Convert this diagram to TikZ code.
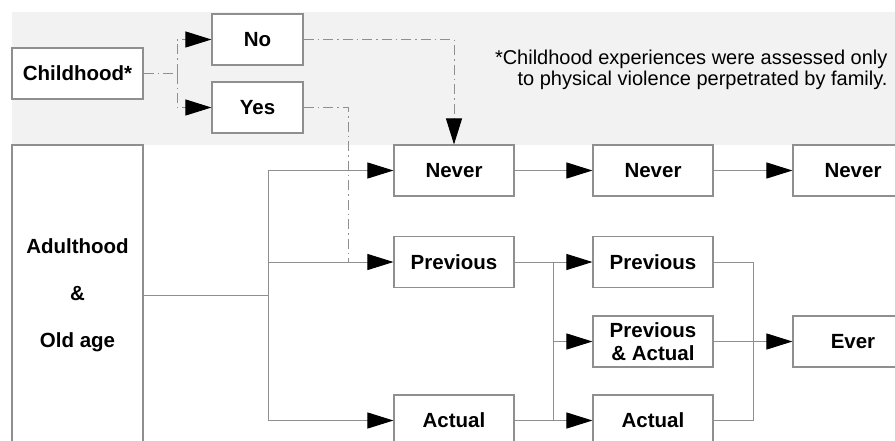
\documentclass[tikz,border=0pt]{standalone}
\usepackage{fontspec}
\setmainfont{Liberation Sans}
\usetikzlibrary{arrows.meta}
\newlength{\du}
\setlength{\du}{1pt}
\definecolor{linegray}{rgb}{0.560000, 0.560000, 0.560000}
\definecolor{bandgray}{rgb}{0.949000, 0.949000, 0.949000}
\begin{document}
\begin{tikzpicture}[yscale=-1,
  box/.style={draw=linegray, line width=1.1\du, fill=white, minimum width=120\du, minimum height=51\du, inner sep=0pt, align=center, font=\fontsize{20.5}{22}\selectfont\bfseries},
  link/.style={draw=linegray, line width=1\du},
  dashdot/.style={link, dash pattern=on 10\du off 4\du on 1.5\du off 4\du},
  arrowto/.style={-{Triangle[length=26pt,width=16pt,color=black]}}]
\useasboundingbox (0\du,0\du) rectangle (895\du,440\du);
% childhood band
\fill[bandgray] (12\du,12\du) rectangle (895\du,145\du);
\node[box, minimum width=131\du] (child) at (77.5\du,73.5\du){Childhood*};
\node[box, minimum width=91\du] (no) at (257.5\du,39.5\du){No};
\node[box, minimum width=91\du] (yes) at (257.5\du,107.5\du){Yes};
\node[anchor=east, align=right, font=\fontsize{20}{21.5}\selectfont] (note) at (891\du,70\du){*Childhood experiences were assessed only\\to physical violence perpetrated by family.};
% adulthood and old age
\node[box, minimum width=131\du, minimum height=300\du, font=\fontsize{20.5}{47}\selectfont\bfseries] (adult) at (77.5\du,295\du){Adulthood\\\&\\Old age};
\node[box] (never1) at (454\du,170.5\du){Never};
\node[box] (prev1) at (454\du,262\du){Previous};
\node[box] (act1) at (454\du,420.5\du){Actual};
\node[box] (never2) at (653\du,170.5\du){Never};
\node[box] (prev2) at (653\du,262\du){Previous};
\node[box, font=\fontsize{20.5}{22.5}\selectfont\bfseries] (both2) at (653\du,341.5\du){Previous\\\& Actual};
\node[box] (act2) at (653\du,420.5\du){Actual};
\node[box] (never3) at (853\du,170.5\du){Never};
\node[box] (ever3) at (853\du,341.5\du){Ever};
\coordinate (splitc) at (177\du,73.5\du);
\coordinate (drop) at (348\du,262\du);
\coordinate (splita) at (268\du,295\du);
\coordinate (splitp) at (553\du,262\du);
\coordinate (merge) at (753\du,262\du);
% dash-dot links
\draw[dashdot] (child) -- (splitc);
\draw[dashdot, arrowto] (splitc) |- (no);
\draw[dashdot, arrowto] (splitc) |- (yes);
\draw[dashdot, arrowto] (no) -| (never1);
\draw[dashdot] (yes) -| (drop);
% solid links
\draw[link] (adult) -- (splita);
\draw[link, arrowto] (splita) |- (never1);
\draw[link, arrowto] (splita) |- (prev1);
\draw[link, arrowto] (splita) |- (act1);
\draw[link, arrowto] (never1) -- (never2);
\draw[link, arrowto] (never2) -- (never3);
\draw[link] (prev1) -- (splitp);
\draw[link, arrowto] (splitp) -- (prev2);
\draw[link, arrowto] (splitp) |- (both2);
\draw[link, arrowto] (splitp) |- (act2);
\draw[link] (act1) -- (splitp |- act1);
\draw[link] (prev2) -- (merge) |- (act2);
\draw[link, arrowto] (both2) -- (ever3);
\end{tikzpicture}
\end{document}
